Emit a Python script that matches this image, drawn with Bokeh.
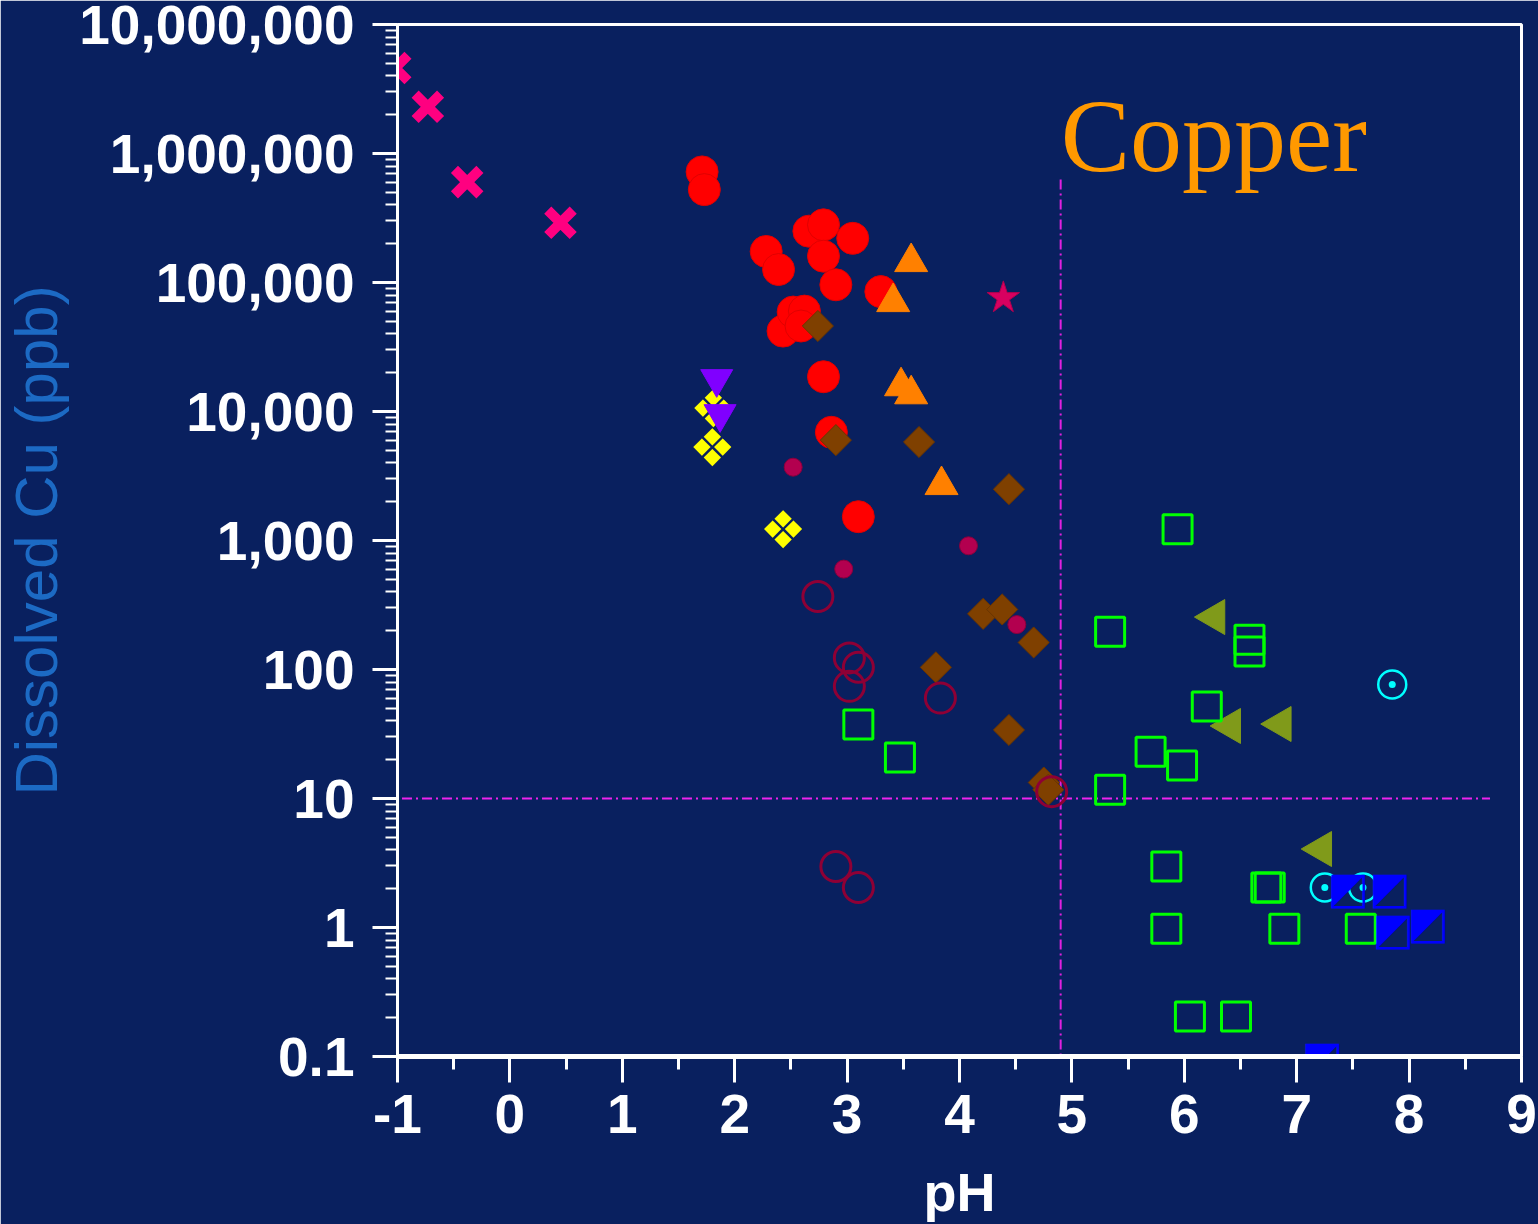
import math
from bokeh.plotting import figure
from bokeh.models import Range1d, FixedTicker, Label
from bokeh.core.properties import value
from bokeh.embed import file_html
from bokeh.resources import INLINE

# ---------------- data (pH, dissolved Cu in ppb) ----------------
x_ph = [-1.02, -0.73, -0.38, 0.45]
x_cu = [4.6e6, 2.3e6, 6.0e5, 2.9e5]

red_ph = [1.71, 1.73, 2.28, 2.39, 2.66, 2.79, 2.79, 3.05, 2.90, 3.30,
          2.43, 2.52, 2.62, 2.59, 2.79, 2.86, 3.10]
red_cu = [7.2e5, 5.25e5, 1.74e5, 1.26e5, 2.5e5, 2.8e5, 1.6e5, 2.2e5, 9.6e4, 8.5e4,
          4.2e4, 5.9e4, 6.0e4, 4.6e4, 1.86e4, 6.9e3, 1.53e3]

tri_ph = [3.57, 3.41, 3.48, 3.57, 3.84]
tri_cu = [1.44e5, 7.05e4, 1.57e4, 1.36e4, 2.69e3]

dia_ph = [2.74, 2.90, 3.64, 4.44, 4.21, 4.38, 4.66, 3.79, 4.44, 4.75, 4.79]
dia_cu = [4.6e4, 6.0e3, 5.8e3, 2.5e3, 270, 292, 162, 104, 34, 13.3, 11.7]

dot_ph = [2.52, 2.97, 4.08, 4.51]
dot_cu = [3.7e3, 600, 910, 223]

ring_ph = [2.74, 3.02, 3.10, 3.02, 3.83, 4.82, 2.90, 3.10]
ring_cu = [368, 123, 104, 74, 60, 11.3, 2.97, 2.04]

inv_ph = [1.84, 1.87]
inv_cu = [1.79e4, 9.58e3]

yel_ph = [1.80, 2.43, 1.81]
yel_cu = [5.2e3, 1.2e3, 1.04e4]

star_ph = [4.39]
star_cu = [7.6e4]

grn_ph = [5.94, 5.34, 6.58, 6.58, 6.20, 5.70, 5.98, 5.34, 3.10, 3.47,
          5.84, 6.73, 6.76, 5.84, 6.89, 7.57, 6.05, 6.46]
grn_cu = [1220, 196, 170, 138, 51.6, 23, 18, 11.7, 37.5, 20.8,
          2.97, 2.04, 2.04, 0.98, 0.98, 0.98, 0.204, 0.204]

olv_ph = [6.27, 6.41, 6.86, 7.22]
olv_cu = [255, 36.5, 37.8, 4.06]

cyan_ph = [7.85, 7.25, 7.59]
cyan_cu = [76.6, 2.04, 2.04]

blue_ph = [7.46, 7.83, 7.86, 8.17, 7.23]
blue_cu = [2.04, 2.04, 0.98, 1.09, 0.1]

# guideline values
limit_cu = 10
limit_cu_span = [-0.96, 8.72]
limit_ph = 4.9
limit_ph_span = [6.3e5, 0.1]

y_ticks = [0.1, 1, 10, 100, 1000, 10000, 100000, 1000000, 10000000]
y_tick_labels = ["0.1", "1", "10", "100", "1,000", "10,000", "100,000",
                 "1,000,000", "10,000,000"]
x_ticks = list(range(-1, 10))
x_tick_labels = [str(t) for t in x_ticks]

BG = "#09205f"
WHITE = "#ffffff"

p = figure(width=1538, height=1224,
           x_range=Range1d(-1, 9), y_range=Range1d(0.1, 1e7),
           y_axis_type="log", output_backend="svg", toolbar_location=None,
           min_border_left=395, min_border_right=17,
           min_border_top=24, min_border_bottom=167)
p.background_fill_color = BG
p.border_fill_color = BG
p.outline_line_color = WHITE
p.outline_line_width = 3
p.grid.grid_line_color = None

# y axis
ya = p.yaxis[0]
ya.ticker = FixedTicker(ticks=y_ticks,
                        minor_ticks=[m * 10.0 ** d for d in range(-1, 7) for m in range(2, 10)])
ya.major_label_overrides = dict(zip(y_ticks, y_tick_labels))
# x axis
xa = p.xaxis[0]
xa.ticker = FixedTicker(ticks=x_ticks, minor_ticks=[t + 0.5 for t in x_ticks[:-1]])
xa.major_label_overrides = dict(zip(x_ticks, x_tick_labels))

for ax in (xa, ya):
    ax.axis_line_color = WHITE
    ax.major_tick_line_color = WHITE
    ax.minor_tick_line_color = WHITE
    ax.major_tick_in = 0
    ax.minor_tick_in = 0
    ax.major_label_text_color = WHITE
    ax.major_label_text_font = "Liberation Sans"
    ax.major_label_text_font_style = "bold"
    ax.major_label_text_font_size = "55px"
ya.axis_line_width = 3
ya.major_tick_out = 25
ya.minor_tick_out = 12
ya.major_tick_line_width = 3
ya.minor_tick_line_width = 2
ya.major_label_standoff = 18
ya.axis_label = "Dissolved Cu (ppb)"
ya.axis_label_text_font = "Liberation Sans"
ya.axis_label_text_font_style = "normal"
ya.axis_label_text_font_size = "60px"
ya.axis_label_text_color = "#1c6ac4"
ya.axis_label_standoff = 6

xa.axis_line_width = 5
xa.major_tick_out = 26
xa.minor_tick_out = 13
xa.major_tick_line_width = 3
xa.minor_tick_line_width = 3
xa.major_label_standoff = 12
xa.axis_label = "pH"
xa.axis_label_text_font = "Liberation Sans"
xa.axis_label_text_font_style = "bold"
xa.axis_label_text_font_size = "54px"
xa.axis_label_text_color = WHITE
xa.axis_label_standoff = 26

# guide lines
p.line(limit_cu_span, [limit_cu, limit_cu], line_color="#ee22ee", line_width=2,
       line_dash="10 4 2 4")
p.line([limit_ph, limit_ph], limit_ph_span, line_color="#e020e0", line_width=2,
       line_dash="10 4 2 4")

# markers
p.scatter(red_ph, red_cu, marker="circle", size=32, fill_color="#ff0000",
          line_color="#e00000", line_width=1)
p.scatter(dia_ph, dia_cu, marker="square", size=22, angle=math.pi / 4,
          fill_color="#7f4000", line_color="#6a3500", line_width=1)
p.scatter(dot_ph, dot_cu, marker="circle", size=18, fill_color="#b3004f",
          line_color="#8a003c", line_width=1)
p.scatter(ring_ph, ring_cu, marker="circle", size=30, fill_color=None,
          line_color="#8e0035", line_width=3)
p.scatter(tri_ph, tri_cu, marker="triangle", size=33, fill_color="#ff8000",
          line_color="#ff8000", line_width=1)
p.text(yel_ph, yel_cu, text=["\u2756"] * len(yel_ph), text_font=value("DejaVu Sans"),
       text_font_size="52px", text_color="#ffff00", text_align="center",
       text_baseline="middle")
p.scatter(inv_ph, inv_cu, marker="inverted_triangle", size=32, fill_color="#8000ff",
          line_color="#8000ff", line_width=1)
p.scatter(star_ph, star_cu, marker="star", size=34, fill_color="#d80060",
          line_color="#b0004e", line_width=1)
p.scatter(olv_ph, olv_cu, marker="triangle", size=35, angle=math.pi / 2,
          fill_color="#809a1a", line_color="#809a1a", line_width=1)
p.scatter(grn_ph, grn_cu, marker="square", size=29, fill_color=None,
          line_color="#00ff00", line_width=3)
p.scatter(cyan_ph, cyan_cu, marker="circle_dot", size=28, fill_color=None,
          line_color="#00ffff", line_width=2.5)
p.text(blue_ph, blue_cu, text=["\u25E9"] * len(blue_ph), text_font=value("DejaVu Sans"),
       text_font_size="44px", text_color="#0000ff", text_align="center",
       text_baseline="middle")
p.scatter(x_ph, x_cu, marker="x", size=36, line_color="#ff0080", line_width=10)

# title text
p.add_layout(Label(x=4.9, y=1.38e6, text="Copper", text_font="Liberation Serif",
                   text_font_size="104px", text_color="#ff9900",
                   text_align="left", text_baseline="alphabetic"))

open("out.html", "w").write(file_html(p, INLINE))
